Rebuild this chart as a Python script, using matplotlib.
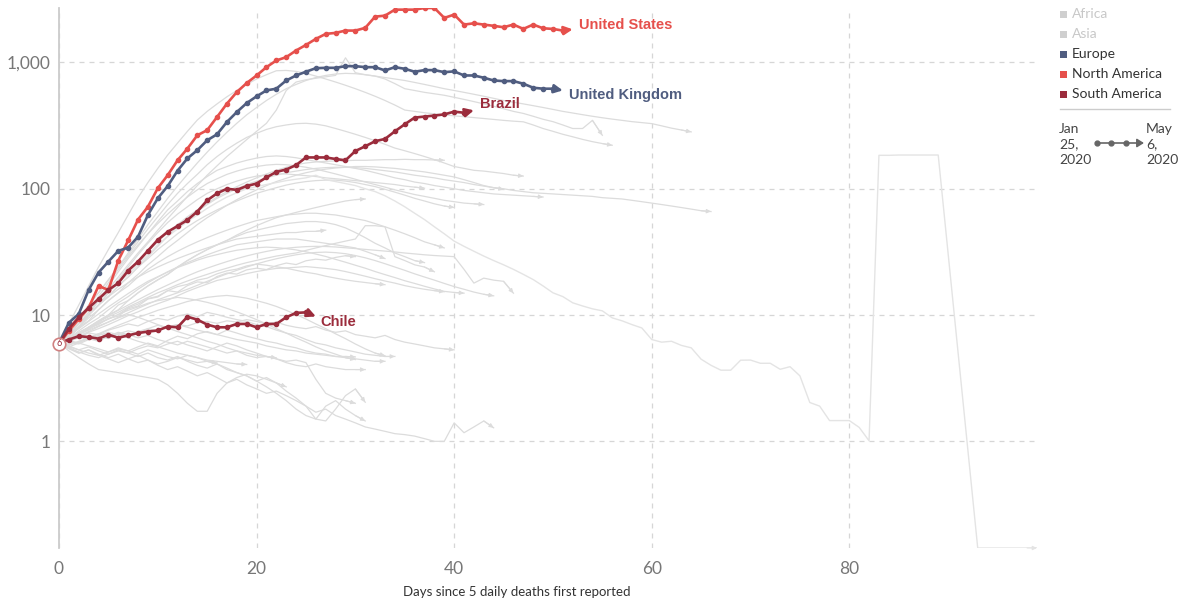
import matplotlib
matplotlib.use("Agg")
import matplotlib.pyplot as plt
from matplotlib.patches import Rectangle, FancyArrowPatch
from matplotlib.lines import Line2D
from matplotlib.ticker import NullLocator

# ---------------- data ----------------
x_ticks = [0, 20, 40, 60, 80]
y_ticks = [1, 10, 100, 1000]
y_tick_labels = ["1", "10", "100", "1,000"]
x_label = "Days since 5 daily deaths first reported"

legend_regions = ["Africa", "Asia", "Europe", "North America", "South America"]
legend_active = [False, False, True, True, True]
timeline_start = "Jan\n25,\n2020"
timeline_end = "May\n6,\n2020"

highlight_names = ["United States", "United Kingdom", "Brazil", "Chile"]

us = [5.9, 7.5, 9.3, 11.4, 17.0, 15.8, 27, 39, 57, 72, 101, 128, 168, 208, 265, 291, 370, 472,
      583, 687, 789, 918, 1037, 1102, 1244, 1377, 1537, 1684, 1715, 1789, 1789, 1879, 2307, 2349,
      2620, 2620, 2620, 2700, 2700, 2254, 2394, 1995, 2043, 1995, 1950, 1901, 1995, 1845, 1995,
      1866, 1843, 1789, 1830]
uk = [6.0, 8.7, 10.2, 15.8, 21.7, 26.5, 32.2, 34.2, 41.7, 62, 84, 105, 139, 174, 202, 242, 270,
      338, 405, 477, 539, 601, 620, 720, 789, 845, 901, 907, 907, 935, 935, 918, 918, 865, 918,
      891, 845, 870, 870, 838, 850, 789, 789, 757, 720, 712, 712, 679, 631, 620, 620, 601]
brazil = [5.9, 7.8, 9.6, 11.4, 13.4, 15.8, 17.9, 22.5, 26.5, 32.3, 39.4, 45.6, 50.7, 56.6, 66, 81,
          92, 100, 98, 105, 110, 123, 136, 142, 154, 177, 177, 177, 172, 168, 199, 217, 238, 248,
          285, 324, 366, 373, 380, 388, 408, 400, 418]
chile = [6.0, 6.4, 6.8, 6.7, 6.5, 7.0, 6.6, 6.9, 7.2, 7.4, 7.55, 8.1, 8.0, 9.7, 9.2, 8.4, 8.0,
         8.0, 8.5, 8.5, 8.0, 8.5, 8.5, 9.6, 10.4, 10.5, 9.75]

china_days = list(range(0, 90)) + list(range(93, 100))
china = [6.0, 7.4, 9.0, 11, 13, 15.5, 18, 21, 25, 30, 36, 42, 48, 55, 62, 70, 78, 86, 93, 100,
         104, 108, 112, 116, 119, 122, 128, 118, 114, 110, 106, 100, 95, 88, 80, 72, 64, 57, 50,
         44, 38.5, 35, 32, 29.3, 27, 25, 23, 21, 19.1, 17, 15, 14, 12.5, 11.8, 11.2, 10.8, 9.5,
         9.0, 8.4, 7.9, 6.4, 6.1, 6.2, 5.75, 5.5, 4.47, 4.0, 3.66, 3.66, 4.39, 4.4, 4.15, 4.15,
         3.72, 3.9, 3.3, 2.03, 1.9, 1.46, 1.46, 1.46, 1.29, 1.01, 184, 184, 185, 185, 185, 185,
         185, 0.143, 0.143, 0.143, 0.143, 0.143, 0.143, 0.143]

grey_spain = [6, 8.5, 12, 17, 24, 33, 45, 62, 85, 112, 145, 185, 230, 285, 350, 410, 470, 535,
              600, 670, 740, 800, 860, 865, 850, 820, 780, 740, 700, 660, 620, 580, 540, 500, 460,
              420, 410, 400, 392, 385, 378, 372, 366, 360, 354, 348, 343, 339, 320, 300, 285, 270,
              258, 246, 236, 228, 221]
grey_italy = [6, 7.5, 9.5, 12, 15, 19, 24, 31, 40, 52, 66, 84, 105, 130, 160, 195, 235, 280, 330,
              385, 440, 500, 560, 620, 670, 720, 760, 790, 810, 820, 815, 800, 780, 760, 740, 720,
              695, 670, 645, 620, 600, 580, 560, 540, 520, 500, 485, 470, 455, 440, 425, 410, 398,
              386, 375, 365, 356, 348, 340, 334, 328, 315, 302, 292, 282]
grey_france = [6, 7, 8.5, 10.5, 13, 16, 20, 25, 31, 38, 47, 58, 71, 87, 106, 128, 152, 180, 210,
               245, 285, 330, 420, 600, 700, 730, 750, 770, 790, 1089, 830, 800, 780, 740, 680,
               620, 600, 580, 565, 550, 530, 510, 490, 470, 450, 430, 410, 395, 375, 355, 340,
               320, 300, 300, 348, 265]
grey_d = [6, 7, 9, 12, 15, 19, 24, 30, 38, 48, 60, 75, 92, 110, 130, 155, 180, 205, 230, 255, 275,
          295, 310, 320, 328, 330, 325, 315, 300, 285, 270, 255, 240, 225, 210, 200, 190, 180,
          170, 160, 150, 145, 140, 138, 135, 132, 128, 126]
grey_f = [6, 6.5, 8, 10, 13, 17, 22, 28, 35, 44, 55, 68, 80, 95, 110, 125, 140, 150, 160, 168,
          175, 180, 182, 180, 176, 170, 165, 160, 155, 150, 145, 140, 134, 128, 122, 118, 113,
          110, 106, 103, 100, 97, 95, 93, 91, 90, 89, 88, 87, 86]
grey_iran = [6, 7, 8.5, 10, 12, 14, 17, 20, 24, 29, 35, 42, 50, 58, 66, 75, 84, 92, 100, 108, 115,
             122, 128, 134, 138, 142, 145, 147, 148, 148, 147, 145, 142, 139, 136, 132, 128, 125,
             122, 118, 115, 112, 108, 105, 102, 100, 97, 95, 93, 92, 91, 90, 89, 88, 87, 85, 84,
             83, 81, 79, 77, 75, 73, 71, 69, 67, 66]
grey_h = [6, 7, 8, 10, 12, 15, 18, 22, 27, 32, 38, 45, 52, 60, 68, 77, 86, 95, 104, 113, 122, 131,
          140, 148, 155, 160, 163, 165, 166, 167, 168, 168, 169, 170, 170, 171, 170, 170, 169, 168]
grey_k = [6, 6.5, 8, 10, 12, 15, 19, 24, 30, 37, 45, 54, 63, 72, 82, 92, 100, 108, 115, 121, 126,
          129, 131, 131, 129, 127, 125, 122, 120, 118, 116, 114, 112, 110, 108, 105, 103, 101]
grey_l = [6, 7, 8, 9, 11, 13, 15, 18, 21, 25, 29, 34, 39, 45, 52, 59, 66, 74, 82, 90, 98, 106, 114,
          121, 128, 134, 139, 143, 146, 148, 150, 150, 149, 147, 145, 142, 139, 136, 132, 128,
          124, 118, 112, 106, 102, 99]
grey_g = [6, 7, 9, 11, 14, 18, 23, 29, 36, 44, 53, 63, 74, 86, 98, 110, 120, 130, 138, 145, 150,
          154, 156, 155, 152, 148, 143, 137, 131, 125, 119, 113, 108, 103, 98, 94, 90, 87, 84, 81,
          79, 77, 76, 75]
grey_i = [6, 7, 8, 10, 12, 14, 17, 20, 24, 28, 33, 38, 44, 50, 56, 62, 68, 74, 80, 86, 92, 97,
          102, 107, 111, 114, 116, 117, 117, 115, 112, 108, 104, 99, 94, 89, 84, 80, 76, 73, 71]
grey_j = [6, 6.5, 7, 8, 9, 10, 11, 13, 15, 17, 19, 21, 24, 27, 30, 33, 36, 39, 43, 47, 51, 55, 59,
          62, 65, 68, 71, 74, 77, 80, 82, 83]
grey_q = [6, 6, 7, 8, 9, 10, 12, 13, 15, 17, 19, 21, 24, 27, 30, 33, 36, 39, 42, 45, 47, 49, 51,
          53, 54, 55, 55, 54, 52, 49, 45, 41, 37, 34, 31, 29, 27, 26]
grey_spike = [6, 6.5, 7.3, 8.0, 8.8, 9.7, 10.5, 11.6, 12.6, 13.8, 15.0, 16.1, 17.4, 18.6, 19.8,
              21.0, 22.3, 23.5, 24.8, 26.0, 27.1, 28.2, 29.3, 30.2, 31.0, 32.5, 34, 35.5, 37,
              38.5, 40, 51, 51, 50, 29, 27, 25, 24, 22]
grey_m3 = [6, 7, 8, 9.5, 11, 13, 15, 17, 20, 23, 26, 29, 32, 35, 38, 41, 44, 47, 50, 53, 56, 58,
           60, 62, 63, 64, 64, 63, 62, 60, 58, 56, 53, 50, 47, 44, 41, 38, 36, 34]
grey_m4 = [6, 6.5, 7.5, 8.5, 9.5, 11, 12.5, 14, 16, 18, 20, 22, 24, 26, 28, 30, 32, 34, 36, 37,
           38, 39, 40, 40, 40, 39, 38, 37, 36, 35, 34, 32, 30, 28]
grey_m1 = [6, 7, 8.5, 10, 12, 14, 16, 18, 20, 22, 24, 26, 28, 30, 32, 34, 36, 38, 40, 41, 42, 43,
           44, 45, 45, 46, 46, 47]
grey_l1 = [6, 6.8, 7.1, 7.9, 8.4, 9.4, 9.8, 11.2, 11.8, 13.4, 13.9, 15.6, 15.2, 17.1, 18.3, 18.0,
           20.2, 21.5, 21.1, 22.8, 23.5, 22.9, 24.6, 25.8, 25.1, 26.9, 27.7, 27.2, 28.6, 29.5, 29]
grey_l2 = [6, 6.4, 7.2, 7.7, 8.6, 9.3, 10.1, 11.4, 12.2, 13.5, 14.1, 15.6, 16.8, 17.5, 18.9, 19.6,
           21.2, 22.4, 23.1, 24.5, 25.3, 24.8, 24.1, 23.5, 22.6, 21.8, 21.2, 20.3, 19.6, 19.0,
           18.5, 18.1, 17.7, 17.4]
grey_l3 = [6, 6.2, 6.6, 7.3, 7.8, 8.4, 9.1, 9.9, 10.6, 11.5, 12.3, 13.1, 14.2, 15.4, 16.5, 17.6,
           18.8, 19.5, 20.4, 21.3, 22.1, 22.8, 23.4, 23.6, 23.9, 24.2, 23.8, 23.4, 22.9, 22.1,
           21.2, 20.3, 19.4, 18.6, 17.9, 17.1, 16.5, 16.0, 15.6, 15.3]
grey_l4 = [6, 6.9, 7.8, 8.9, 10.2, 11.6, 13.1, 14.8, 16.6, 18.5, 20.1, 21.9, 23.8, 25.4, 27.2,
           28.8, 30.1, 31.4, 32.6, 33.4, 34.1, 34.5, 34.2, 33.6, 32.8, 31.7, 30.4, 29.1, 27.6,
           26.2, 24.8, 23.5, 22.1, 20.9, 19.8, 18.7, 17.8, 16.9, 16.1, 15.4, 15.1, 14.9]
grey_l5 = [6, 6.3, 6.8, 7.4, 8.1, 8.8, 9.6, 10.4, 11.3, 12.2, 13.2, 14.1, 15.0, 16.0, 17.2, 18.5,
           19.8, 21.2, 22.6, 24.0, 25.4, 26.7, 27.9, 29.0, 30.0, 30.8, 31.3, 31.5, 31.2, 30.6,
           29.6, 28.4, 27.0, 25.5, 24.0, 22.6, 21.2, 20.0, 18.9, 17.8, 16.8, 16.0, 15.2, 14.6, 14.2]
grey_l6 = [6, 6.5, 7.2, 8.0, 8.9, 9.9, 10.9, 12.0, 13.2, 14.5, 15.9, 17.3, 18.8, 20.4, 22.0, 23.5,
           25.0, 26.5, 28.0, 29.4, 30.7, 31.9, 33.0, 33.8, 34.4, 34.8, 35.0, 34.9, 34.6, 34.1,
           33.6, 33.1, 32.6, 32.1, 31.6, 31.0, 30.5, 30.0, 29.6, 29.3, 29.0, 23.0, 17.9, 19.6,
           18.9, 18.5, 14.9]
grey_v1 = [6, 5.8, 6.1, 6.5, 6.2, 6.8, 7.1, 6.9, 7.4, 7.8, 7.5, 8.1, 8.4, 8.2, 8.7, 8.9, 8.6, 9.0,
           8.8, 9.2, 8.9, 8.5, 8.8, 8.3, 8.0, 7.8, 8.1, 7.6, 7.3, 7.5, 7.0, 6.8, 6.6, 6.9, 6.4,
           6.1, 5.9, 5.7, 5.5, 5.4, 5.3]
grey_v2 = [6, 6.4, 6.8, 7.2, 7.0, 7.6, 8.0, 8.5, 8.2, 8.9, 9.4, 9.1, 9.8, 10.2, 9.7, 10.5, 10.1,
           9.6, 9.2, 8.9, 8.4, 8.1, 7.6, 7.2, 6.9, 6.4, 6.0, 5.8, 5.5, 5.3, 5.1, 4.9, 4.8, 4.7, 4.7]
grey_v3 = [6, 5.6, 5.3, 5.0, 4.8, 5.1, 5.4, 5.2, 5.6, 6.0, 5.7, 6.3, 6.8, 6.5, 7.1, 7.4, 7.0, 7.6,
           7.2, 6.8, 6.5, 6.2, 6.0, 5.7, 5.5, 5.2, 5.0, 4.9, 4.7, 4.6, 4.5, 4.4, 4.3, 4.3]
grey_v4 = [6, 6.2, 5.9, 6.4, 6.8, 6.5, 7.1, 7.5, 7.2, 7.8, 8.3, 7.9, 8.4, 8.0, 7.6, 7.3, 7.0, 6.7,
           6.4, 6.2, 6.0, 5.7, 5.5, 5.3, 5.2, 5.0, 4.9, 4.8, 4.7, 4.7, 4.66]
grey_v5 = [6, 5.5, 5.1, 4.8, 4.6, 4.9, 5.2, 5.0, 5.4, 5.7, 5.5, 5.9, 6.2, 5.8, 5.5, 5.2, 5.6, 6.0,
           5.7, 5.3, 5.0, 4.7, 4.5, 4.2, 4.0, 3.9, 4.1, 3.9, 3.8, 3.7, 3.7, 3.7]
grey_v6 = [6, 6.3, 6.0, 6.6, 7.1, 6.8, 7.3, 7.0, 6.6, 6.9, 6.4, 6.1, 5.8, 6.2, 5.9, 5.6, 5.3, 5.0,
           5.2, 4.8, 4.6, 4.7, 4.5, 4.3, 4.4, 4.2, 3.1, 2.4, 2.2, 2.1, 2.0]
grey_v7 = [6, 5.7, 5.3, 5.6, 5.2, 4.9, 5.3, 5.0, 4.7, 5.0, 4.6, 4.4, 4.7, 4.3, 4.0, 3.8, 4.1, 3.7,
           3.5, 3.3, 3.0, 3.2, 2.9, 2.5, 2.2, 1.9, 1.5, 1.9, 2.1, 1.8, 1.6, 1.45]
grey_v8 = [6, 5.4, 5.0, 5.3, 4.9, 4.6, 4.9, 4.5, 4.2, 4.4, 4.0, 3.7, 3.9, 3.6, 3.3, 3.5, 3.2, 2.9,
           3.1, 2.8, 2.6, 2.4, 2.5, 2.3, 2.1, 1.9, 1.7, 1.8, 1.6, 1.5, 1.4, 1.3, 1.25, 1.2, 1.15,
           1.13, 1.1, 1.05, 1.0, 1.0, 1.4, 1.17, 1.3, 1.45, 1.28]
grey_v9 = [6, 5.5, 5.0, 5.3, 4.8, 4.5, 4.2, 4.5, 4.8, 4.4, 4.1, 4.3, 4.6, 4.4, 4.2, 4.3, 4.18]
grey_v10 = [6, 6.3, 6.7, 6.4, 6.9, 7.3, 7.0, 6.6, 6.2, 5.9, 5.6, 5.3, 5.0, 4.8, 4.6, 4.4, 4.3, 4.2,
            4.1, 4.06]
grey_v11 = [6, 6.5, 7.0, 7.6, 8.2, 8.8, 9.5, 10.1, 9.6, 9.0, 8.4, 7.9, 7.4, 7.0, 6.6, 6.2, 5.9,
            5.5, 5.2, 5.0, 4.8, 4.7, 4.58]
grey_v12 = [6, 6.6, 7.2, 7.9, 8.6, 9.3, 10.1, 10.9, 11.6, 12.4, 13.0, 13.4, 13.8, 13.5, 13.1, 12.6,
            12.0, 11.3, 10.6, 9.9, 9.2, 8.5, 7.8, 7.2, 6.6, 6.1, 5.6, 5.2, 4.9, 4.6, 4.44]
grey_v13 = [6, 5.8, 6.2, 6.6, 7.1, 7.7, 8.3, 8.9, 9.6, 10.2, 10.9, 11.5, 12.1, 12.8, 13.3, 13.8,
            14.1, 14.3, 14.0, 13.6, 13.0, 12.4, 11.7, 10.9, 10.1, 9.3, 8.5, 7.8, 7.1, 6.5, 5.9,
            5.4, 5.0, 4.76]
grey_v14 = [6, 5.2, 4.6, 4.1, 3.7, 3.6, 3.5, 3.4, 3.3, 3.2, 3.1, 2.8, 2.4, 2.0, 1.73, 1.73, 2.4,
            2.9, 3.2, 3.4, 3.3, 3.1, 2.9, 2.7]
grey_v15 = [6, 5.6, 6.0, 5.7, 5.4, 5.1, 5.5, 5.2, 4.9, 5.3, 5.0, 4.7, 4.5, 4.8, 4.6, 4.3, 4.1, 3.8,
            3.5, 3.3, 3.0, 2.7, 2.4, 2.1, 1.8, 1.6, 1.5, 1.45, 1.8, 2.3, 2.6, 2.04]

grey_series = [grey_spain, grey_italy, grey_france, grey_d, grey_f, grey_iran, grey_h, grey_k,
               grey_l, grey_g, grey_i, grey_j, grey_q, grey_spike, grey_m3, grey_m4, grey_m1,
               grey_l1, grey_l2, grey_l3, grey_l4, grey_l5, grey_l6, grey_v1, grey_v2, grey_v3,
               grey_v4, grey_v5, grey_v6, grey_v7, grey_v8, grey_v9, grey_v10, grey_v11, grey_v12,
               grey_v13, grey_v14, grey_v15]

# ---------------- styling ----------------
C_US = "#e6504c"
C_UK = "#505d80"
C_SA = "#9b2c3c"
C_GREY = "#dcdcdc"
C_AFR = "#cfcfcf"

W, H = 1184, 601
fig = plt.figure(figsize=(W / 100, H / 100), dpi=100)
ax = fig.add_axes([59 / W, 1 - 548 / H, (1037 - 59) / W, (548 - 8) / H])
ax.set_yscale("log")
ax.set_xlim(0, 99)
ax.set_ylim(0.143, 2700)

for s in ["top", "right", "bottom"]:
    ax.spines[s].set_visible(False)
ax.spines["left"].set_color("#cccccc")
ax.spines["left"].set_linewidth(1.3)

ax.set_xticks(x_ticks)
ax.set_yticks(y_ticks)
ax.set_yticklabels(y_tick_labels)
ax.yaxis.set_minor_locator(NullLocator())
ax.grid(True, color="#d6d6d6", linestyle=(0, (4, 4)), linewidth=0.9)
ax.tick_params(length=0, colors="#777777", labelsize=12.5)
ax.tick_params(axis="x", pad=9)
ax.tick_params(axis="y", pad=6)
for lab in ax.get_xticklabels() + ax.get_yticklabels():
    lab.set_fontfamily("Lato")
ax.set_axisbelow(True)


def end_arrow(xs, ys, color, lw, hl, hw, z):
    ax.annotate("", xy=(xs[-1], ys[-1]), xytext=(xs[-2], ys[-2]),
                arrowprops=dict(arrowstyle="-|>,head_length=%s,head_width=%s" % (hl, hw),
                                color=color, lw=lw, shrinkA=0, shrinkB=0),
                zorder=z)


# grey lines
for ser in grey_series:
    xs = list(range(len(ser)))
    ax.plot(xs, ser, color=C_GREY, lw=0.9, zorder=1, solid_joinstyle="round")
    end_arrow(xs, ser, C_GREY, 0.8, 0.25, 0.12, 1)
ax.plot(china_days, china, color="#e4e4e4", lw=1.0, zorder=1)
end_arrow(china_days, china, "#e4e4e4", 0.8, 0.25, 0.12, 1)

# highlighted
highlights = [(us, C_US, (6, 4)), (uk, C_UK, (6, -5)), (brazil, C_SA, (6, 6)), (chile, C_SA, (5, -6))]
for (ser, col, off), name in zip(highlights, highlight_names):
    xs = list(range(len(ser)))
    ax.plot(xs[:-1], ser[:-1], color=col, lw=1.9, marker="o", ms=3, zorder=4)
    end_arrow(xs, ser, col, 1.9, 0.5, 0.25, 4)
    ax.annotate(name, xy=(xs[-1], ser[-1]), xytext=off, textcoords="offset pixels",
                color=col, fontweight="bold", fontsize=10.5, family="Liberation Sans",
                ha="left", va="center", zorder=6)

# start marker
ax.plot([0], [5.9], "o", ms=9, mfc="white", mec="#d08080", mew=1.2, zorder=6, clip_on=False)
ax.text(0, 5.9, "6", fontsize=6.5, color=C_SA, ha="center", va="center", zorder=7,
        family="Lato")

# x label
fig.text(517 / W, 1 - 592 / H, x_label, ha="center", va="center", fontsize=9.5,
         color="#333333", family="Lato")

# legend
leg_colors = [C_AFR, C_AFR, C_UK, C_US, C_SA]
for i, (name, active, col) in enumerate(zip(legend_regions, legend_active, leg_colors)):
    yc = 14 + 20 * i
    fig.add_artist(Rectangle((1060 / W, 1 - (yc + 3.5) / H), 7 / W, 7 / H,
                             transform=fig.transFigure, color=col, lw=0))
    fig.text(1072 / W, 1 - yc / H, name, ha="left", va="center", fontsize=10,
             color="#333333" if active else "#c8c8c8", family="Lato")
fig.add_artist(Line2D([1060 / W, 1170 / W], [1 - 109 / H, 1 - 109 / H],
                      transform=fig.transFigure, color="#cccccc", lw=1))
for txt, xl in [(timeline_start, 1059), (timeline_end, 1146)]:
    for j, part in enumerate(txt.split("\n")):
        fig.text(xl / W, 1 - (129 + 15.5 * j) / H, part, ha="left", va="center",
                 fontsize=10, color="#444444", family="Lato")
fig.add_artist(Line2D([1097 / W, 1111 / W, 1126 / W], [1 - 143 / H] * 3,
                      transform=fig.transFigure, color="#666666", lw=1.2,
                      marker="o", ms=3.5))
fig.add_artist(FancyArrowPatch(
    (1126 / W, 1 - 143 / H), (1144 / W, 1 - 143 / H), transform=fig.transFigure,
    arrowstyle="-|>,head_length=4,head_width=2.5", color="#666666", lw=1.2,
    shrinkA=0, shrinkB=0))

fig.savefig("out.png", dpi=100)
